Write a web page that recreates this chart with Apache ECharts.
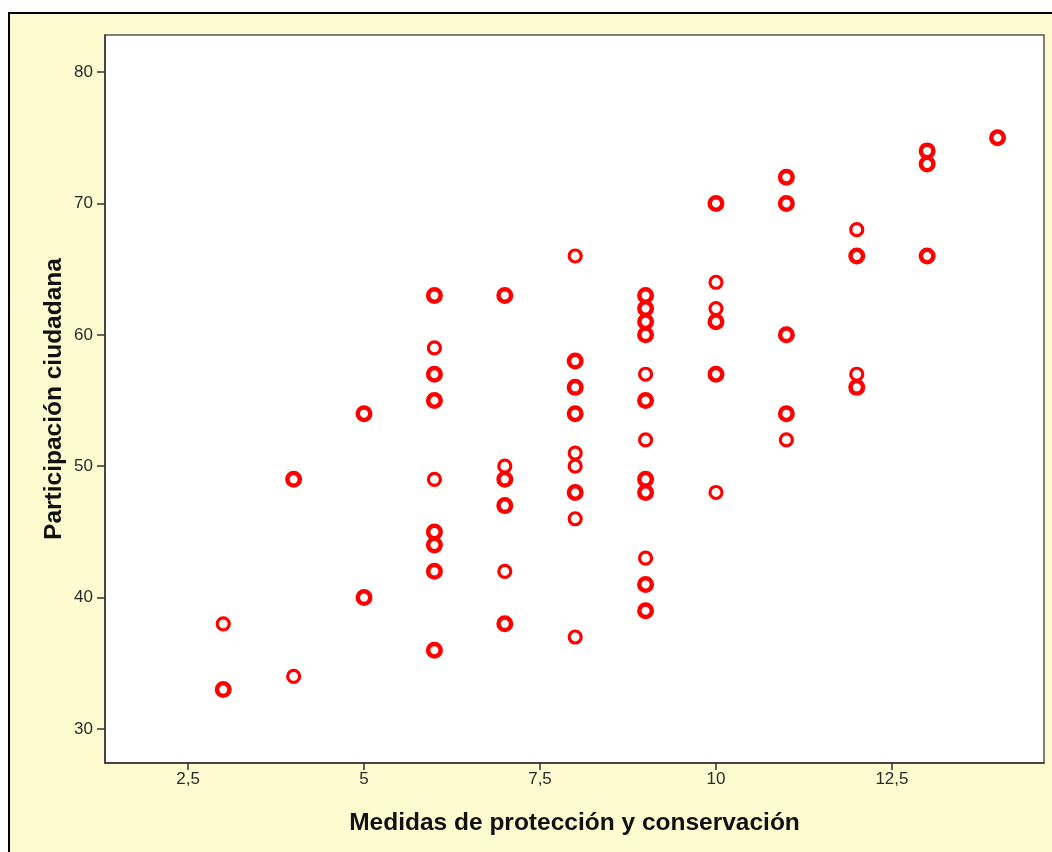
<!DOCTYPE html>
<html>
<head>
<meta charset="utf-8">
<script src="https://cdn.jsdelivr.net/npm/echarts@6/dist/echarts.min.js"></script>
<style>
html,body{margin:0;padding:0;background:#fff;}
#chart{width:1052px;height:852px;}
</style>
</head>
<body>
<div id="chart"></div>
<script>
// Data (x = Medidas, y = Participación, n = 1 single / 2 overlapping cases)
const xValues = [3,3, 4,4, 5,5,
  6,6,6,6,6,6,6,6,6,
  7,7,7,7,7,7,
  8,8,8,8,8,8,8,8,8,
  9,9,9,9,9,9,9,9,9,9,9,9,
  10,10,10,10,10,10,
  11,11,11,11,11,
  12,12,12,12,
  13,13,13,
  14];
const yValues = [38,33, 49,34, 54,40,
  63,59,57,55,49,45,44,42,36,
  63,50,49,47,42,38,
  66,58,56,54,51,50,48,46,37,
  63,62,61,60,57,55,52,49,48,43,41,39,
  70,64,62,61,57,48,
  72,70,60,54,52,
  68,66,57,56,
  74,73,66,
  75];
const counts = [1,2, 2,1, 2,2,
  2,1,2,2,1,2,2,2,2,
  2,1,2,2,1,2,
  1,2,2,2,1,1,2,1,1,
  2,2,2,2,1,2,1,2,2,1,2,2,
  2,1,1,2,2,1,
  2,2,2,2,1,
  1,2,1,2,
  2,2,2,
  2];
const xTicks = [2.5, 5, 7.5, 10, 12.5];
const xTickLabels = ['2,5', '5', '7,5', '10', '12,5'];
const yTicks = [30, 40, 50, 60, 70, 80];
const yTickLabels = ['30', '40', '50', '60', '70', '80'];
const xTitle = 'Medidas de protección y conservación';
const yTitle = 'Participación ciudadana';

const singles = [], multiples = [];
for (let i = 0; i < xValues.length; i++) {
  (counts[i] > 1 ? multiples : singles).push([xValues[i], yValues[i]]);
}

const chart = echarts.init(document.getElementById('chart'), null, {renderer: 'canvas'});
const axisTxt = {fontFamily: 'Liberation Sans, Arial, sans-serif', fontSize: 17, color: '#2a2a2a'};
const titleTxt = {fontFamily: 'Liberation Sans, Arial, sans-serif', fontSize: 24.5, fontWeight: 'bold', color: '#111'};
const option = {
  backgroundColor: '#ffffff',
  animation: false,
  graphic: {
    z: -10,
    elements: [{
      type: 'rect', z: -10,
      shape: {x: 9, y: 13, width: 1100, height: 900},
      style: {fill: '#FFFBD0', stroke: '#000', lineWidth: 2}
    }]
  },
  grid: {
    left: 105, top: 35, right: 8, bottom: 89,
    show: true, backgroundColor: '#ffffff', borderColor: '#555', borderWidth: 1.5
  },
  xAxis: {
    type: 'value', min: 1.32, max: 14.66,
    splitLine: {show: false},
    axisLine: {show: true, onZero: false, lineStyle: {color: '#333', width: 1.5}},
    axisTick: {show: true, length: 7, customValues: xTicks, lineStyle: {color: '#333', width: 1.5}},
    axisLabel: Object.assign({
      customValues: xTicks, margin: 8,
      formatter: v => xTickLabels[xTicks.indexOf(v)] ?? String(v).replace('.', ',')
    }, axisTxt),
    name: xTitle, nameLocation: 'middle', nameGap: 48,
    nameTextStyle: titleTxt
  },
  yAxis: {
    type: 'value', min: 27.41, max: 82.82,
    splitLine: {show: false},
    axisLine: {show: true, onZero: false, lineStyle: {color: '#333', width: 1.5}},
    axisTick: {show: true, length: 8, customValues: yTicks, lineStyle: {color: '#333', width: 1.5}},
    axisLabel: Object.assign({
      customValues: yTicks, margin: 12,
      formatter: v => yTickLabels[yTicks.indexOf(v)] ?? String(v)
    }, axisTxt),
    name: yTitle, nameLocation: 'middle', nameGap: 38, nameRotate: 90, nameMoveOverlap: false,
    nameTextStyle: titleTxt
  },
  series: [
    {
      type: 'scatter', data: singles, symbol: 'circle', symbolSize: 12,
      itemStyle: {color: '#ffffff', borderColor: '#ff0000', borderWidth: 3.2, opacity: 1}
    },
    {
      type: 'scatter', data: multiples, symbol: 'circle', symbolSize: 12.5,
      itemStyle: {color: '#ffffff', borderColor: '#ff0000', borderWidth: 4.5, opacity: 1}
    }
  ]
};
chart.setOption(option);
</script>
</body>
</html>
